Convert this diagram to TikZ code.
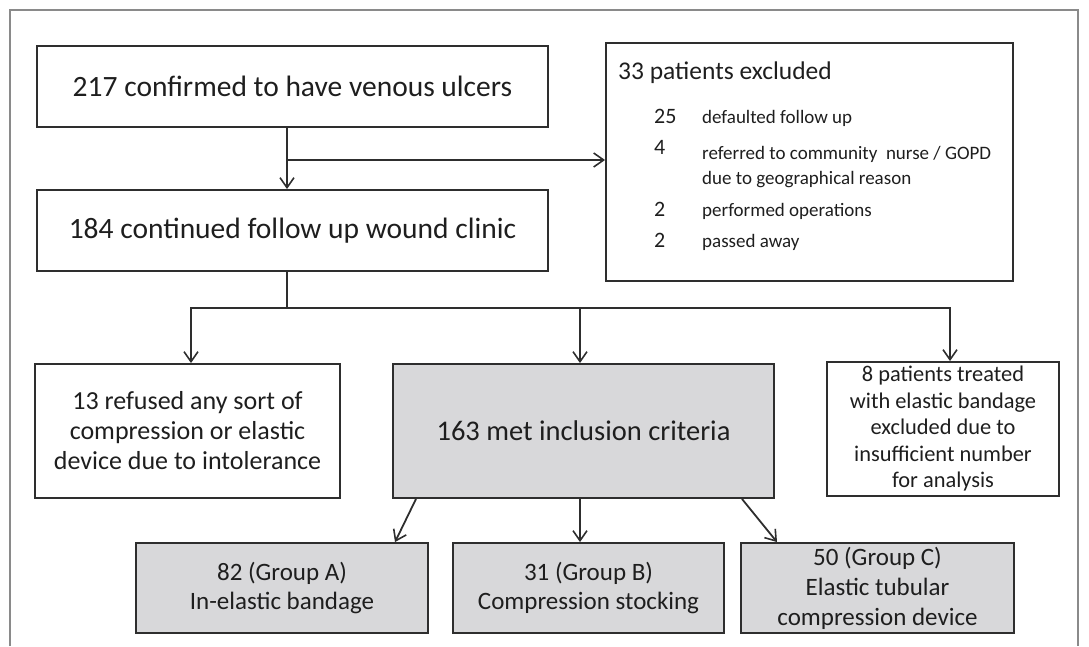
\documentclass[tikz,border=0pt]{standalone}
\usepackage{fontspec}
\setmainfont{Carlito}
\usetikzlibrary{arrows.meta}
\definecolor{ln}{HTML}{2E2E2E}
\definecolor{tx}{HTML}{1E1E1E}
\definecolor{fillg}{HTML}{D8D8DA}
\definecolor{frm}{HTML}{8A8A8A}
\begin{document}
\begin{tikzpicture}[x=1pt,y=-1pt,
  box/.style={draw=ln,line width=1.9pt,inner sep=0pt,align=center,text=tx},
  gbox/.style={box,fill=fillg},
  conn/.style={draw=ln,line width=1.8pt,-{Straight Barb[length=10pt,width=14pt,line width=1.6pt]}},
  plain/.style={draw=ln,line width=1.8pt},
  lbl/.style={inner sep=0pt,text=tx,anchor=base west}]
\useasboundingbox (0,0) rectangle (1089,646);
\draw[frm,line width=1.5pt] (10,646) -- (10,10) -- (1078,10) -- (1078,646);

\node[box,minimum width=511pt,minimum height=81pt,font=\fontsize{29.5}{32}\selectfont] (b217) at (292.5,86.5) {217 confirmed to have venous ulcers};
\node[box,minimum width=511pt,minimum height=81pt,font=\fontsize{29.5}{32}\selectfont] (b184) at (292.5,230.5) {184 continued follow up wound clinic};
\node[box,minimum width=407pt,minimum height=238pt] (bex) at (809.5,162) {};

\node[lbl,font=\fontsize{25.5}{28}\selectfont] (ex0) at (618,79) {33 patients excluded};
\node[lbl,font=\fontsize{22}{24}\selectfont] (n1) at (654,123) {25};
\node[lbl,font=\fontsize{19}{22}\selectfont] (d1) at (702,123) {defaulted follow up};
\node[lbl,font=\fontsize{22}{24}\selectfont] (n2) at (654,154) {4};
\node[lbl,font=\fontsize{19}{22}\selectfont] (d2) at (702,159) {referred to community\ \ nurse / GOPD};
\node[lbl,font=\fontsize{19}{22}\selectfont] (d2b) at (702,184) {due to geographical reason};
\node[lbl,font=\fontsize{22}{24}\selectfont] (n3) at (654,216) {2};
\node[lbl,font=\fontsize{19}{22}\selectfont] (d3) at (702,216) {performed operations};
\node[lbl,font=\fontsize{22}{24}\selectfont] (n4) at (654,247) {2};
\node[lbl,font=\fontsize{19}{22}\selectfont] (d4) at (702,247) {passed away};

\node[box,minimum width=305pt,minimum height=134pt,font=\fontsize{26}{30}\selectfont] (b13) at (187.5,431) {13 refused any sort of\\compression or elastic\\device due to intolerance};
\node[gbox,minimum width=381pt,minimum height=134pt,font=\fontsize{28.5}{32}\selectfont] (b163) at (583.5,431) {163 met inclusion criteria};
\node[box,minimum width=232pt,minimum height=134pt,font=\fontsize{22.4}{26.5}\selectfont] (b8) at (943,429) {8 patients treated\\with elastic bandage\\excluded due to\\insufficient number\\for analysis};

\node[gbox,minimum width=292pt,minimum height=90pt,font=\fontsize{25}{29}\selectfont] (bA) at (282,588) {82 (Group A)\\In-elastic bandage};
\node[gbox,minimum width=271pt,minimum height=90pt,font=\fontsize{25}{29}\selectfont] (bB) at (588.5,588) {31 (Group B)\\Compression stocking};
\node[gbox,minimum width=273pt,minimum height=90pt,font=\fontsize{25}{30}\selectfont] (bC) at (877.5,588) {50 (Group C)\\Elastic tubular\\compression device};

\coordinate (j1) at (287,160);
\coordinate (j2) at (287,308);
\coordinate (jl) at (191,308);
\coordinate (jm) at (580,308);
\coordinate (jr) at (950,308);

\draw[conn] (b217.south -| j1) -- (b184.north -| j1);
\draw[conn] (j1) -- (j1 -| bex.west);
\draw[plain] (b184.south -| j2) -- (j2);
\draw[plain,line cap=rect] (jl) -- (jr);
\draw[conn] (jl) -- (jl |- b13.north);
\draw[conn] (jm) -- (jm |- b163.north);
\draw[conn] (jr) -- (jr |- b8.north);

\draw[conn] (b163.south -| 416,0) -- (bA.north -| 395,0);
\draw[conn] (b163.south -| jm) -- (bB.north -| jm);
\draw[conn] (b163.south -| 742,0) -- (bC.north -| 777,0);
\end{tikzpicture}
\end{document}
